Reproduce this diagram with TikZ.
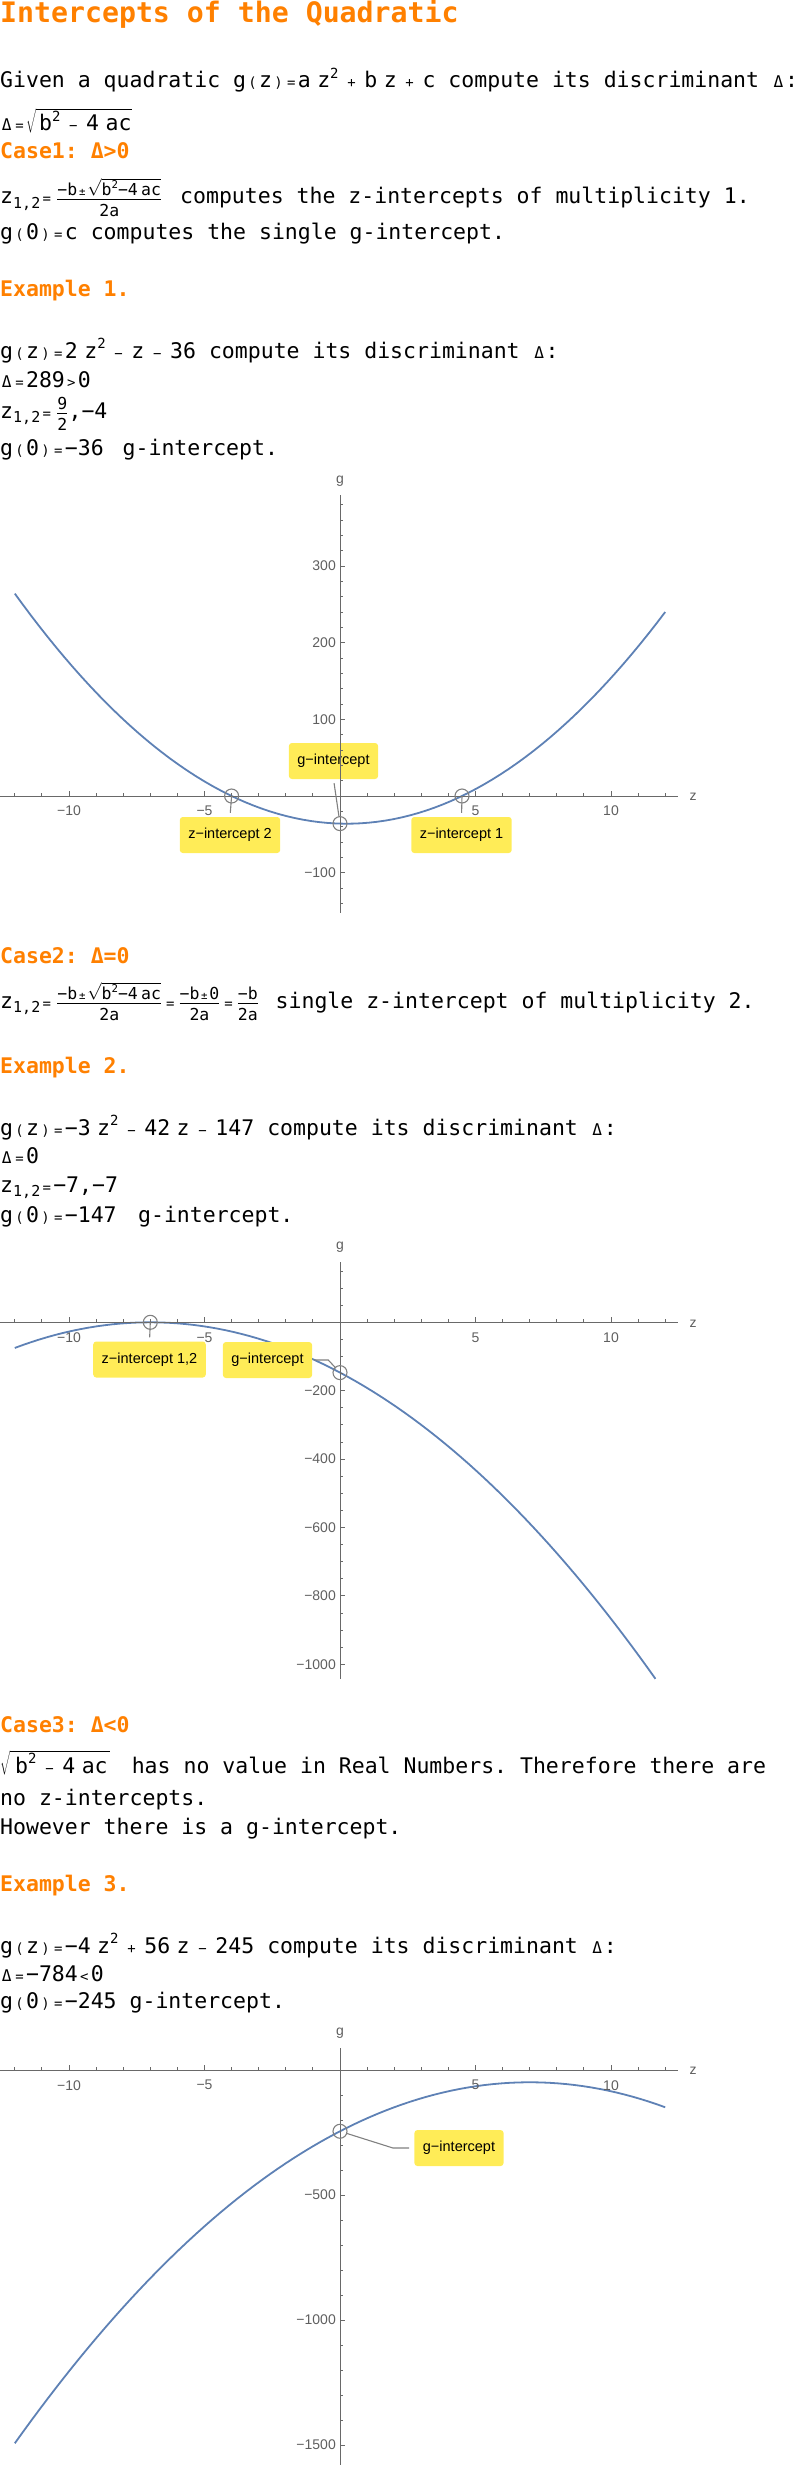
\documentclass[tikz,border=0pt]{standalone}
\usepackage{fontspec}
\usepackage{graphicx}
\setmonofont{DejaVu Sans Mono}
\newfontfamily\plotfont{Liberation Sans}

\definecolor{hdorange}{RGB}{255,128,0}
\definecolor{curveblue}{RGB}{94,129,181}
\definecolor{axisgray}{RGB}{105,105,105}
\definecolor{tickgray}{RGB}{95,95,95}
\definecolor{markgray}{RGB}{128,128,128}
\definecolor{callyellow}{RGB}{255,236,87}

\newcommand\body{\ttfamily\fontsize{21.5}{26}\selectfont}
\newcommand\so[1]{\makebox[0.602em]{\scalebox{0.65}{#1}}}
\newcommand\bo[1]{\makebox[1.2em]{\scalebox{0.65}{#1}}}
\newcommand\mo[1]{\makebox[0.75em]{\scalebox{0.65}{#1}}}
\newcommand\dl{\makebox[0.602em]{\scalebox{0.75}{Δ}}}
\newcommand\gp{\hspace{0.3em}}
\newcommand\sq{\raisebox{0.45em}{\scalebox{0.65}{2}}}
\newcommand\zs{z\raisebox{-0.22em}{\scalebox{0.7}{1,2}}}
\newcommand\rt[1]{$\sqrt{\hbox{#1}}$}
\newcommand\fr[2]{$\frac{\hbox{\fontsize{16.5}{19}\selectfont#1}}{\hbox{\fontsize{16.5}{19}\selectfont\rule{0pt}{1.05em}#2}}$}

\begin{document}
\begin{tikzpicture}[x=1pt,y=-1pt,
    txt/.style={anchor=base west,inner sep=0pt,font=\body},
    hd/.style={txt,font=\body\bfseries,text=hdorange},
    curve/.style={curveblue,line width=1.8pt},
    axis/.style={axisgray,line width=0.9pt},
    ticklab/.style={inner sep=0pt,text=tickgray,font=\plotfont\fontsize{14}{16}\selectfont},
    callout/.style={fill=callyellow,rounded corners=3pt,inner xsep=8.5pt,minimum height=36pt,font=\plotfont\fontsize{14.5}{17}\selectfont},
    marker/.style={markgray,line width=1.1pt},
    leader/.style={markgray,line width=1.1pt}]
\useasboundingbox (0,0) rectangle (796,2467);

% text: general case
\node[hd,font=\ttfamily\bfseries\fontsize{28.2}{32}\selectfont] (title) at (0,23) {Intercepts of the Quadratic};
\node[txt] (given) at (0,88) {Given a quadratic g\so{(}z\so{)}\so{=}a\gp z\sq\bo{+}b\gp z\bo{+}c compute its discriminant \dl:};
\node[txt] (disc) at (0,131) {\dl\so{=}\rt{\hspace{3pt}b\sq\bo{−}4\gp ac}};
\node[hd] (case1) at (0,159) {Case1: Δ>0};
\node[txt] (zform1) at (0,204) {\zs\so{=}\hspace{3pt}\fr{−b\so{±}\rt{b\sq−4\hspace{0.2em}ac}}{2a}};
\node[txt] (zform1t) at (180,204) {computes the z-intercepts of multiplicity 1.};
\node[txt] (gzero) at (0,240) {g\so{(}0\so{)}\so{=}c computes the single g-intercept.};

% text: example 1
\node[hd] (ex1) at (0,296) {Example 1.};
\node[txt] (ex1g) at (0,358) {g\so{(}z\so{)}\so{=}2\gp z\sq\bo{−}z\bo{−}36 compute its discriminant \dl:};
\node[txt] (ex1d) at (0,387) {\dl\so{=}289\so{>}0};
\node[txt] (ex1z) at (0,418) {\zs\so{=}\hspace{3pt}\fr{9}{2},−4};
\node[txt] (ex1c) at (0,455) {g\so{(}0\so{)}\so{=}−36\hspace{6pt} g-intercept.};

% plot 1
\draw[curve] plot[domain=-12:12,samples=80] ({340+27.1*\x},{796-0.7667*(2*\x*\x-\x-36)});
\node[callout] (c1g) at (333.5,761) {g−intercept};
\node[callout] (c1a) at (230,835) {z−intercept 2};
\node[callout] (c1b) at (461.5,835) {z−intercept 1};
\draw[axis] (0,796) -- (678,796);
\draw[axis] (340,495) -- (340,913);
\foreach \z in {-12,...,12}
  \draw[axis] ({340+27.1*\z},796) -- ++(0,-3);
\foreach \z/\t in {-10/−10,-5/−5,5/5,10/10} {
  \draw[axis] ({340+27.1*\z},796) -- ++(0,-5);
  \node[ticklab,anchor=north] (p1z\z) at ({340+27.1*\z},806) {\t};
}
\foreach \v in {-140,-120,...,380}
  \draw[axis] (340,{796-0.7667*\v}) -- ++(3,0);
\foreach \v/\t in {-100/−100,100/100,200/200,300/300} {
  \draw[axis] (340,{796-0.7667*\v}) -- ++(5,0);
  \node[ticklab,anchor=east] (p1g\v) at (336,{796-0.7667*\v}) {\t};
}
\node[ticklab] (p1gl) at (340,481) {g};
\node[ticklab] (p1zl) at (693,797) {z};
\coordinate (m1a) at (231.6,796);
\coordinate (m1b) at (462,796);
\coordinate (m1g) at (340,823.6);
\foreach \m in {m1a,m1b,m1g}
  \draw[marker] (\m) circle (7);
\draw[leader,shorten >=4pt] (m1a) -- (c1a.north);
\draw[leader,shorten >=4pt] (m1b) -- (c1b.north);
\draw[leader,shorten <=4pt,shorten >=7pt] (c1g.south) -- (m1g);

% text: case 2
\node[hd] (case2) at (0,963) {Case2: Δ=0};
\node[txt] (zform2) at (0,1008) {\zs\so{=}\hspace{3pt}\fr{−b\so{±}\rt{b\sq−4\hspace{0.2em}ac}}{2a}\mo{=}\fr{−b\so{±}0}{2a}\mo{=}\fr{−b}{2a}};
\node[txt] (zform2t) at (275.5,1008) {single z-intercept of multiplicity 2.};

% text: example 2
\node[hd] (ex2) at (0,1073) {Example 2.};
\node[txt] (ex2g) at (0,1135) {g\so{(}z\so{)}\so{=}−3\gp z\sq\bo{−}42\gp z\bo{−}147 compute its discriminant \dl:};
\node[txt] (ex2d) at (0,1163) {\dl\so{=}0};
\node[txt] (ex2z) at (0,1192) {\zs\so{=}−7,−7};
\node[txt] (ex2c) at (0,1222) {g\so{(}0\so{)}\so{=}−147\hspace{8.5pt} g-intercept.};

% plot 2
\draw[curve] plot[domain=-12:11.64,samples=80] ({340+27.1*\x},{1322.3-0.342*(-3*\x*\x-42*\x-147)});
\node[callout] (c2z) at (149.5,1359.5) {z−intercept 1,2};
\node[callout] (c2g) at (267.5,1360) {g−intercept};
\draw[axis] (0,1322.3) -- (678,1322.3);
\draw[axis] (340,1262) -- (340,1679);
\foreach \z in {-12,...,12}
  \draw[axis] ({340+27.1*\z},1322.3) -- ++(0,-3);
\foreach \z/\t in {-10/−10,-5/−5,5/5,10/10} {
  \draw[axis] ({340+27.1*\z},1322.3) -- ++(0,-5);
  \node[ticklab,anchor=north] (p2z\z) at ({340+27.1*\z},1332.3) {\t};
}
\foreach \v in {-1000,-950,...,150}
  \draw[axis] (340,{1322.3-0.342*\v}) -- ++(3,0);
\foreach \v/\t in {-1000/−1000,-800/−800,-600/−600,-400/−400,-200/−200} {
  \draw[axis] (340,{1322.3-0.342*\v}) -- ++(5,0);
  \node[ticklab,anchor=east] (p2g\v) at (336,{1322.3-0.342*\v}) {\t};
}
\node[ticklab] (p2gl) at (340,1247) {g};
\node[ticklab] (p2zl) at (693,1323.3) {z};
\coordinate (m2z) at (150.3,1322.3);
\coordinate (m2g) at (340,1372.6);
\foreach \m in {m2z,m2g}
  \draw[marker] (\m) circle (7);
\draw[leader,shorten >=4pt] (m2z) -- (c2z.north);
\draw[leader,shorten <=2pt,shorten >=6pt] (c2g.east) -- ++(16,0) -- (m2g);

% text: case 3
\node[hd] (case3) at (0,1732) {Case3: Δ<0};
\node[txt] (noroot) at (0,1773) {\rt{\hspace{5pt}b\sq\bo{−}4\gp ac\hspace{2pt}}};
\node[txt] (noroott) at (131.6,1773) {has no value in Real Numbers. Therefore there are};
\node[txt] (noz) at (0,1805) {no z-intercepts.};
\node[txt] (however) at (0,1834) {However there is a g-intercept.};

% text: example 3
\node[hd] (ex3) at (0,1891) {Example 3.};
\node[txt] (ex3g) at (0,1953) {g\so{(}z\so{)}\so{=}−4\gp z\sq\bo{+}56\gp z\bo{−}245 compute its discriminant \dl:};
\node[txt] (ex3d) at (0,1981) {\dl\so{=}−784\so{<}0};
\node[txt] (ex3c) at (0,2008) {g\so{(}0\so{)}\so{=}−245 g-intercept.};

% plot 3
\draw[curve] plot[domain=-12:12,samples=80] ({340+27.1*\x},{2070-0.25*(-4*\x*\x+56*\x-245)});
\node[callout] (c3g) at (459,2148) {g−intercept};
\draw[axis] (0,2070) -- (678,2070);
\draw[axis] (340,2048) -- (340,2465);
\foreach \z in {-12,...,12}
  \draw[axis] ({340+27.1*\z},2070) -- ++(0,-3);
\foreach \z/\t in {-10/−10,-5/−5,5/5,10/10} {
  \draw[axis] ({340+27.1*\z},2070) -- ++(0,-5);
  \node[ticklab,anchor=north] (p3z\z) at ({340+27.1*\z},2080) {\t};
}
\foreach \v in {-1500,-1400,...,-100}
  \draw[axis] (340,{2070-0.25*\v}) -- ++(3,0);
\foreach \v/\t in {-1500/−1500,-1000/−1000,-500/−500} {
  \draw[axis] (340,{2070-0.25*\v}) -- ++(5,0);
  \node[ticklab,anchor=east] (p3g\v) at (336,{2070-0.25*\v}) {\t};
}
\node[ticklab] (p3gl) at (340,2033) {g};
\node[ticklab] (p3zl) at (693,2071) {z};
\coordinate (m3g) at (340,2131.25);
\coordinate (k3g) at (393,2148);
\draw[marker] (m3g) circle (7);
\draw[leader,shorten <=7pt,shorten >=5pt] (m3g) -- (k3g) -- (c3g.west);
\end{tikzpicture}
\end{document}
